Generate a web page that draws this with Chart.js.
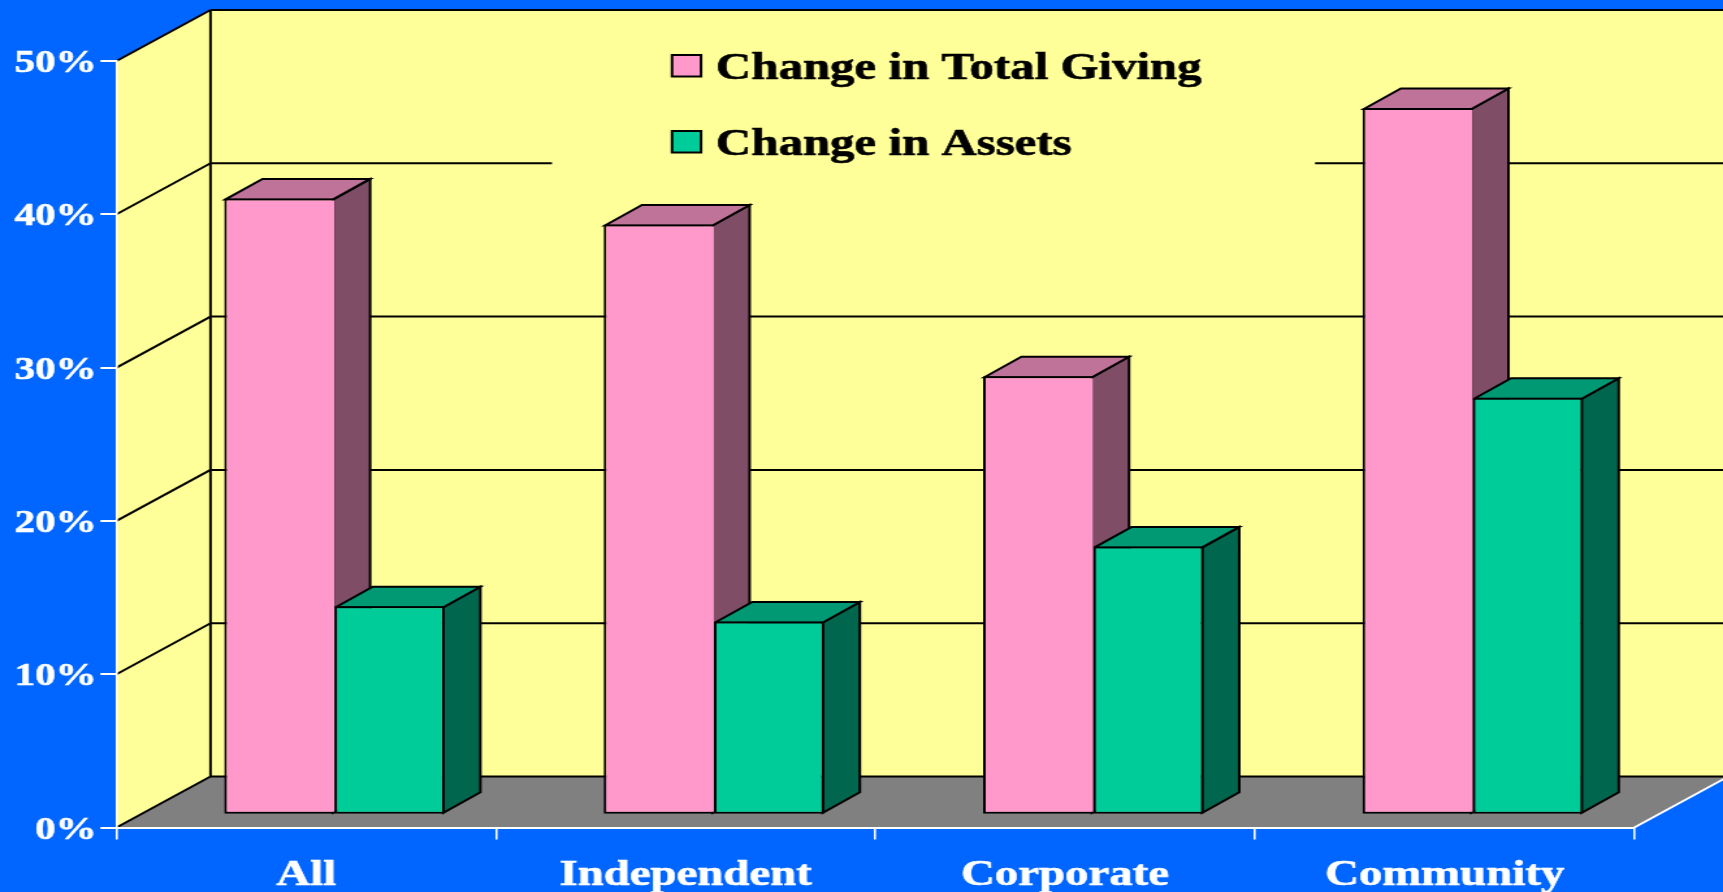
<!DOCTYPE html>
<html><head><meta charset="utf-8">
<style>
html,body{margin:0;padding:0;background:#0066FF;overflow:hidden;width:1723px;height:892px}
#wrap{width:1325px;height:892px;transform-origin:0 0;transform:scaleX(1.30038)}
canvas{display:block}
</style>
<script src="https://cdn.jsdelivr.net/npm/chart.js@4/dist/chart.umd.min.js"></script>
</head><body><div id="wrap"><canvas id="c" width="1325" height="892"></canvas></div>
<script>
const categories = ['All','Independent','Corporate','Community'];
const totalGiving = [40.2,38.5,28.6,46.1];
const assets = [13.6,12.6,17.5,27.2];
const tickValues = [0,10,20,30,40,50];
const seriesNames = ['Change in Total Giving','Change in Assets'];

const k = 1723/1325;
const FONT = '"Liberation Serif"';
const wall = {dx:94/k, dy:-51};       // depth of the 3-D box
const barShift = {dx:28.2/k, dy:-12.8}; // where bars stand on the floor
const barDepth = {dx:37/k, dy:-20.5};
const shades = {
  '#FF99CC':{top:'#BF7399',side:'#804D66'},
  '#00CC99':{top:'#009973',side:'#00664D'}
};
function poly(ctx,pts,fill,stroke,lw){
  ctx.beginPath();pts.forEach((p,i)=>i?ctx.lineTo(p[0],p[1]):ctx.moveTo(p[0],p[1]));ctx.closePath();
  if(fill){ctx.fillStyle=fill;ctx.fill();}
  if(stroke){ctx.strokeStyle=stroke;ctx.lineWidth=lw;ctx.stroke();}
}
function line(ctx,x1,y1,x2,y2,c,lw){ctx.beginPath();ctx.moveTo(x1,y1);ctx.lineTo(x2,y2);ctx.strokeStyle=c;ctx.lineWidth=lw;ctx.stroke();}

const box3d = {
  id:'box3d',
  beforeDraw(chart){
    const ctx=chart.ctx,{y:ys}=chart.scales,a=chart.chartArea;
    const y0=ys.getPixelForValue(0),yT=ys.getPixelForValue(50),L=a.left,R=a.right,W=chart.width;
    const dx=wall.dx,dy=wall.dy;
    ctx.save();
    ctx.fillStyle='#0066FF';ctx.fillRect(0,0,W,chart.height);
    poly(ctx,[[L,yT],[L+dx,yT+dy],[L+dx,y0+dy],[L,y0]],'#FFFF99');
    poly(ctx,[[L+dx,yT+dy],[W+5,yT+dy],[W+5,y0+dy],[L+dx,y0+dy]],'#FFFF99');
    poly(ctx,[[L,y0],[L+dx,y0+dy],[R+dx,y0+dy],[R,y0]],'#808080');
    tickValues.forEach(v=>{
      const y=ys.getPixelForValue(v);
      line(ctx,L,y,L+dx,y+dy,'#000',2);
      line(ctx,L+dx,y+dy,W+5,y+dy,'#000',2);
    });
    line(ctx,L+dx,yT+dy,L+dx,y0+dy,'#000',2);
    line(ctx,R,y0,R+dx,y0+dy,'#fff',2);
    // legend panel hides the grid line behind it
    ctx.fillStyle='#FFFF99';ctx.fillRect(552/k,40,(1315-552)/k,130);
    ctx.restore();
  },
  beforeDatasetsDraw(chart){
    const ctx=chart.ctx;
    ctx.save();ctx.translate(barShift.dx,barShift.dy);
    const dx=barDepth.dx,dy=barDepth.dy;
    ctx.lineJoin='miter';
    chart.data.datasets.forEach((d,i)=>{
      const s=shades[d.backgroundColor];
      chart.getDatasetMeta(i).data.forEach(el=>{
        const p=el.getProps(['x','y','base','width'],true);
        const l=p.x-p.width/2,r=p.x+p.width/2,t=p.y,b=p.base;
        poly(ctx,[[r-1,t+1],[r+dx-1,t+dy+1],[r+dx-1,b+dy-1],[r-1,b-1]],s.side,'#000',2);
        poly(ctx,[[l+1,t+1],[l+dx+1,t+dy+1],[r+dx-1,t+dy+1],[r-1,t+1]],s.top,'#000',2);
      });
    });
  },
  afterDatasetsDraw(chart){chart.ctx.restore();},
  afterDraw(chart){
    const ctx=chart.ctx;
    ctx.save();
    ctx.textBaseline='alphabetic';ctx.textAlign='left';
    ctx.font='bold 37.6px '+FONT;
    chart.data.datasets.forEach((d,i)=>{
      const yb=55+i*76;
      ctx.fillStyle=d.backgroundColor;ctx.strokeStyle='#000';ctx.lineWidth=2;
      ctx.fillRect(672/k,yb,29/k,21.5);ctx.strokeRect(672/k,yb,29/k,21.5);
      ctx.fillStyle='#000';ctx.strokeStyle='#000';ctx.lineWidth=0.6;
      ctx.fillText(d.label,716/k,yb+23.5);
      ctx.strokeText(d.label,716/k,yb+23.5);
    });
    ctx.restore();
  }
};

new Chart(document.getElementById('c'),{
  type:'bar',
  data:{labels:categories,datasets:[
    {label:seriesNames[0],data:totalGiving,backgroundColor:'#FF99CC',borderColor:'#000',borderWidth:{top:2,left:2,bottom:2,right:0},borderSkipped:false,clip:false,categoryPercentage:0.581,barPercentage:1},
    {label:seriesNames[1],data:assets,backgroundColor:'#00CC99',borderColor:'#000',borderWidth:2,borderSkipped:false,clip:false,categoryPercentage:0.581,barPercentage:1}
  ]},
  options:{
    responsive:false,animation:false,devicePixelRatio:1,
    layout:{padding:{top:61,right:(1723-1634.3)/k,left:0,bottom:0}},
    plugins:{legend:{display:false},tooltip:{enabled:false}},
    scales:{
      x:{
        afterFit(s){s.height=64.5;},
        grid:{offset:true,drawOnChartArea:false,color:'#fff',lineWidth:1.6,tickLength:12},
        border:{color:'#fff',width:2},
        ticks:{color:'#fff',font:{family:FONT,weight:'bold',size:36},padding:15,maxRotation:0,textStrokeColor:'#fff',textStrokeWidth:0.6}
      },
      y:{
        min:0,max:50,
        afterFit(s){s.width=116.5/k;},
        afterBuildTicks(s){s.ticks=tickValues.map(v=>({value:v}));},
        grid:{drawOnChartArea:false,color:'#fff',lineWidth:2,tickLength:12.4},
        border:{color:'#fff',width:1.6},
        ticks:{color:'#fff',font:{family:FONT,weight:'bold',size:31.5},padding:3,labelOffset:3,callback:v=>v+'%',textStrokeColor:'#fff',textStrokeWidth:0.6}
      }
    }
  },
  plugins:[box3d]
});
</script></body></html>
